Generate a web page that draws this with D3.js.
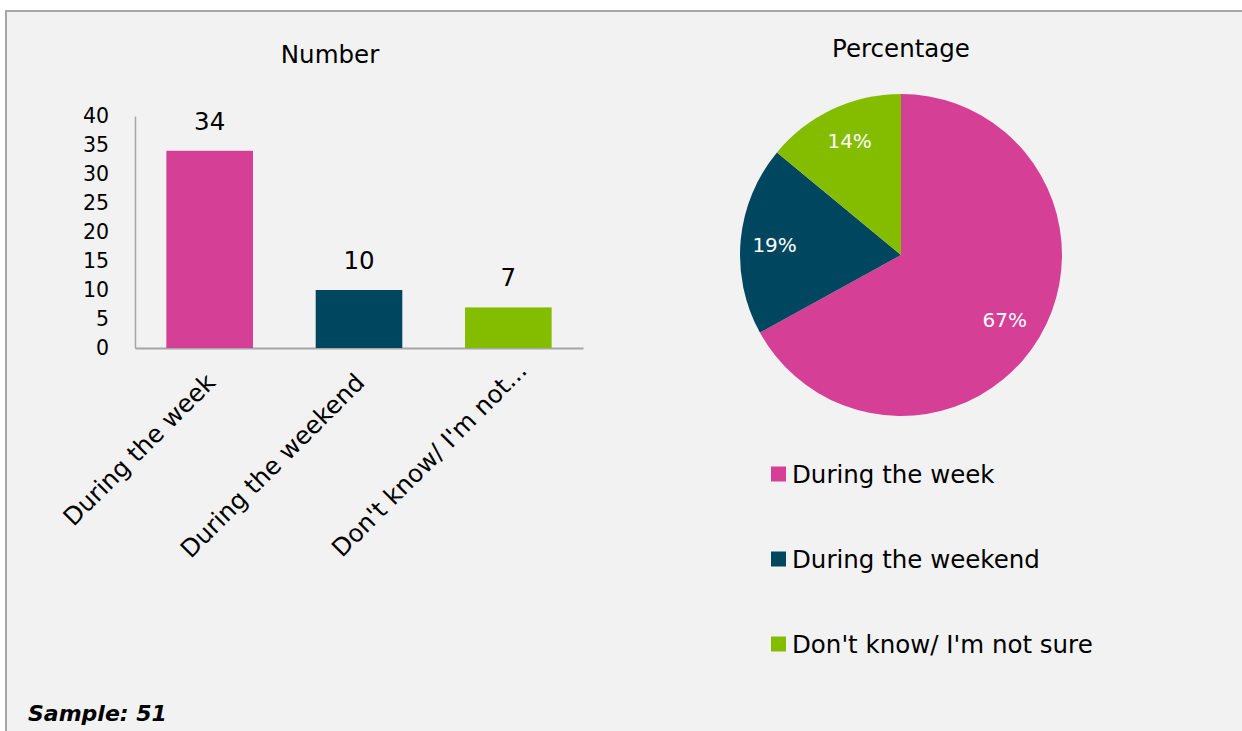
<!DOCTYPE html>
<html>
<head>
<meta charset="utf-8">
<script src="https://cdn.jsdelivr.net/npm/d3@7"></script>
<style>
  html, body { margin: 0; padding: 0; background: #ffffff; }
  svg { display: block; }
  text { font-family: "DejaVu Sans", sans-serif; fill: #000; }
</style>
</head>
<body>
<svg id="chart" width="1242" height="731"></svg>
<script>
const categories = ["During the week", "During the weekend", "Don't know/ I'm not sure"];
const axisLabels = ["During the week", "During the weekend", "Don't know/ I'm not..."];
const counts = [34, 10, 7];
const percentages = [67, 19, 14];
const colors = ["#d63f96", "#00465f", "#84bd00"];
const yTicks = [0, 5, 10, 15, 20, 25, 30, 35, 40];
const barTitle = "Number";
const pieTitle = "Percentage";
const sampleText = "Sample: 51";

const FONT = "'DejaVu Sans', sans-serif";
const svg = d3.select("#chart");

// background panel with border
svg.append("rect").attr("x", 0).attr("y", 0).attr("width", 1242).attr("height", 731).attr("fill", "#ffffff");
svg.append("rect").attr("x", 6).attr("y", 11).attr("width", 1250).attr("height", 730)
  .attr("fill", "#f2f2f2").attr("stroke", "#a6a6a6").attr("stroke-width", 2);

// ---- Bar chart ----
const x = d3.scaleBand().domain(categories).range([135, 583]).paddingInner(0.42).paddingOuter(0.21);
const y = d3.scaleLinear().domain([0, 40]).range([348, 116]);

svg.append("text").attr("x", 330).attr("y", 63).attr("text-anchor", "middle")
  .style("font-size", "24.5px").text(barTitle);

const yAxis = svg.append("g").attr("transform", "translate(135,0)")
  .call(d3.axisLeft(y).tickValues(yTicks).tickSize(0).tickPadding(26));
yAxis.select(".domain").attr("stroke", "#a6a6a6").attr("stroke-width", 1.5);
yAxis.selectAll("text").style("font-size", "20.5px").style("font-family", FONT).attr("fill", "#000");

const xAxis = svg.append("g").attr("transform", "translate(0,348)")
  .call(d3.axisBottom(x).tickSize(0).tickFormat((d, i) => axisLabels[i]));
xAxis.select(".domain").attr("stroke", "#a6a6a6").attr("stroke-width", 2);
xAxis.selectAll("text")
  .style("font-size", "24.5px").style("font-family", FONT).attr("fill", "#000")
  .attr("text-anchor", "end")
  .attr("dy", 0).attr("y", 0).attr("x", 0)
  .attr("transform", (d, i) => `translate(${7 + (i === 2 ? 13 : 0)},${36 - (i === 2 ? 12 : 0)}) rotate(-45)`);

svg.selectAll(".bar").data(counts).enter().append("rect")
  .attr("class", "bar")
  .attr("x", (d, i) => x(categories[i]))
  .attr("y", d => y(d))
  .attr("width", x.bandwidth())
  .attr("height", d => y(0) - y(d))
  .attr("fill", (d, i) => colors[i]);

svg.selectAll(".barlabel").data(counts).enter().append("text")
  .attr("x", (d, i) => x(categories[i]) + x.bandwidth() / 2)
  .attr("y", d => y(d) - 21)
  .attr("text-anchor", "middle")
  .style("font-size", "24.5px")
  .text(d => d);

// ---- Pie chart ----
const cx = 901, cy = 255, r = 161;
svg.append("text").attr("x", cx).attr("y", 57).attr("text-anchor", "middle")
  .style("font-size", "24.5px").text(pieTitle);

const pie = d3.pie().sort(null).value(d => d)(percentages);
const arc = d3.arc().innerRadius(0).outerRadius(r);
const g = svg.append("g").attr("transform", `translate(${cx},${cy})`);
g.selectAll("path").data(pie).enter().append("path")
  .attr("d", arc).attr("fill", (d, i) => colors[i]);

const labelArc = d3.arc().innerRadius(r * 0.72).outerRadius(r * 0.72);
const labelOffsets = [[4, 6], [-11, 1], [-2, -9]];
g.selectAll(".plabel").data(pie).enter().append("text")
  .attr("transform", (d, i) => {
    const c = labelArc.centroid(d);
    return `translate(${c[0] + labelOffsets[i][0]},${c[1] + labelOffsets[i][1]})`;
  })
  .attr("text-anchor", "middle").attr("dy", "0.35em")
  .style("font-size", "20px").style("fill", "#ffffff")
  .text(d => d.data + "%");

// ---- Legend ----
const legend = svg.append("g");
const ly = d3.scalePoint().domain(categories).range([474, 644]);
categories.forEach((c, i) => {
  legend.append("rect").attr("x", 771).attr("y", ly(c) - 7.5).attr("width", 15).attr("height", 15).attr("fill", colors[i]);
  legend.append("text").attr("x", 792).attr("y", ly(c)).attr("dy", "0.35em")
    .style("font-size", "24.5px").text(c);
});

// ---- Sample note ----
svg.append("text").attr("x", 28).attr("y", 721)
  .style("font-size", "22px").style("font-weight", "bold").style("font-style", "italic")
  .text(sampleText);
</script>
</body>
</html>
